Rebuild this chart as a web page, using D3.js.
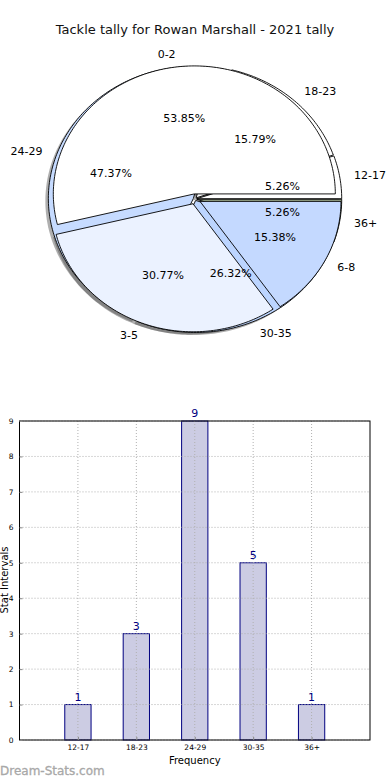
<!DOCTYPE html>
<html><head><meta charset="utf-8">
<script src="https://cdn.jsdelivr.net/npm/d3@7"></script>
<style>body{margin:0;background:#fff}svg{display:block;font-family:"DejaVu Sans",sans-serif}</style>
</head><body><svg id="c" width="390" height="780"></svg>
<script>
const title = "Tackle tally for Rowan Marshall - 2021 tally";
const outerCats = ["12-17","18-23","24-29","30-35","36+"];
const outerVals = [1,3,9,5,1];
const outerColors = ["#ffffff","#ffffff","#c6dbff","#bcd5ff","#9aa88a"];
const innerCats = ["0-2","3-5","6-8"];
const innerVals = [7,4,2];
const innerColors = ["#ffffff","#ebf2ff","#c4d9ff"];
const barCats = ["12-17","18-23","24-29","30-35","36+"];
const barVals = [1,3,9,5,1];
const yTicks = [0,1,2,3,4,5,6,7,8,9];

const svg = d3.select("#c");
svg.append("text").attr("x",195).attr("y",34).attr("text-anchor","middle").attr("font-size",13).attr("fill","#111").text(title);

const cx = 195, cy = 199;
const pieGen = d3.pie().sort(null).value(d=>d);
function slices(vals, rx, ry, expl){
  const arcs = pieGen(vals);
  return arcs.map(a=>{
    const t1 = a.startAngle, t2 = a.endAngle;
    const tm = (t1+t2)/2;
    const ox = expl*rx*Math.cos(tm), oy = -expl*ry*Math.sin(tm);
    return {a, t1, t2, tm, ox, oy};
  });
}
function wedgePath(s, rx, ry, dx, dy){
  const x0 = cx + s.ox + (dx||0), y0 = cy + s.oy + (dy||0);
  const n = Math.max(4, Math.ceil((s.t2-s.t1)/0.02));
  const p = d3.path();
  p.moveTo(x0,y0);
  for(let i=0;i<=n;i++){
    const t = s.t1 + (s.t2-s.t1)*i/n;
    p.lineTo(x0 + rx*Math.cos(t), y0 - ry*Math.sin(t));
  }
  p.closePath();
  return p.toString();
}
const R1x=145, R1y=132, R2x=141, R2y=128;
const outer = slices(outerVals, R1x, R1y, 0.012);
const inner = slices(innerVals, R2x, R2y, 0.04);
const g = svg.append("g");
[[outer,R1x,R1y],[inner,R2x,R2y]].forEach(([ss,rx,ry])=>{
  g.selectAll(null).data(ss).enter().append("path")
   .attr("d",s=>wedgePath(s,rx,ry,-3,2.6)).attr("fill","#4d4d4d").attr("opacity",0.45);
});
g.selectAll(null).data(outer).enter().append("path")
 .attr("d",s=>wedgePath(s,R1x,R1y)).attr("fill",(s,i)=>outerColors[i]).attr("stroke","#000").attr("stroke-width",0.9).attr("stroke-linejoin","round");
g.selectAll(null).data(inner).enter().append("path")
 .attr("d",s=>wedgePath(s,R2x,R2y)).attr("fill",(s,i)=>innerColors[i]).attr("stroke","#000").attr("stroke-width",0.9).attr("stroke-linejoin","round");

function labels(ss, cats, vals, rx, ry){
  const tot = d3.sum(vals);
  ss.forEach((s,i)=>{
    const lx = cx + s.ox + 1.1*rx*Math.cos(s.tm), ly = cy + s.oy - 1.1*ry*Math.sin(s.tm);
    svg.append("text").attr("x",lx).attr("y",ly).attr("dy","0.35em")
      .attr("text-anchor", Math.cos(s.tm)>0?"start":"end").attr("font-size",11).attr("fill","#000").text(cats[i]);
    const px = cx + s.ox + 0.6*rx*Math.cos(s.tm), py = cy + s.oy - 0.6*ry*Math.sin(s.tm);
    svg.append("text").attr("x",px).attr("y",py).attr("dy","0.35em").attr("text-anchor","middle")
      .attr("font-size",11).attr("fill","#000").text((vals[i]/tot*100).toFixed(2)+"%");
  });
}
labels(outer, outerCats, outerVals, R1x, R1y);
labels(inner, innerCats, innerVals, R2x, R2y);

const L=19.5, Rr=370, T=421, B=740;
const x = d3.scaleLinear().domain([-1,5]).range([L,Rr]);
const y = d3.scaleLinear().domain([0,9]).range([B,T]);
const bw = x(0.225)-x(-0.225);
const bg = svg.append("g");
bg.selectAll(null).data(barVals).enter().append("rect")
  .attr("x",(d,i)=>x(i)-bw/2).attr("y",d=>y(d)).attr("width",bw).attr("height",d=>B-y(d))
  .attr("fill","#ccccE3").attr("stroke","#000080").attr("stroke-width",1);
yTicks.forEach(t=>{
  bg.append("line").attr("x1",L).attr("x2",Rr).attr("y1",y(t)).attr("y2",y(t))
    .attr("stroke","#b0b0b0").attr("stroke-width",1).attr("stroke-dasharray","1,2");
});
barCats.forEach((c,i)=>{
  bg.append("line").attr("x1",x(i)).attr("x2",x(i)).attr("y1",T).attr("y2",B)
    .attr("stroke","#b0b0b0").attr("stroke-width",1).attr("stroke-dasharray","1,2");
});
bg.append("rect").attr("x",L).attr("y",T).attr("width",Rr-L).attr("height",B-T).attr("fill","none").attr("stroke","#000").attr("stroke-width",1);
const yAx = d3.axisLeft(y).tickValues(yTicks).tickSize(-3).tickPadding(6);
const yg = bg.append("g").attr("transform",`translate(${L},0)`).call(yAx);
yg.select(".domain").remove();
yg.selectAll("text").attr("font-size",7.5).attr("fill","#000").attr("font-family","DejaVu Sans");
yg.selectAll("line").attr("stroke","#888");
const xAx = d3.axisBottom(x).tickValues(d3.range(barCats.length)).tickFormat(i=>barCats[i]).tickSize(-3).tickPadding(5);
const xg = bg.append("g").attr("transform",`translate(0,${B})`).call(xAx);
xg.select(".domain").remove();
xg.selectAll("text").attr("font-size",7.5).attr("fill","#000").attr("font-family","DejaVu Sans");
xg.selectAll("line").attr("stroke","#888");
bg.selectAll(null).data(barVals).enter().append("text")
  .attr("x",(d,i)=>x(i)).attr("y",d=>y(d)-4).attr("text-anchor","middle").attr("font-size",11).attr("fill","#000080").text(d=>d);
svg.append("text").attr("x",(L+Rr)/2).attr("y",764).attr("text-anchor","middle").attr("font-size",10).attr("fill","#000").text("Frequency");
svg.append("text").attr("transform","translate(8,580) rotate(-90)").attr("text-anchor","middle").attr("font-size",10).attr("fill","#000").text("Stat Intervals");
svg.append("text").attr("x",0).attr("y",775).attr("font-size",12).attr("fill","#a8a8a8").attr("stroke","#a8a8a8").attr("stroke-width",0.3).text("Dream-Stats.com");
</script></body></html>
